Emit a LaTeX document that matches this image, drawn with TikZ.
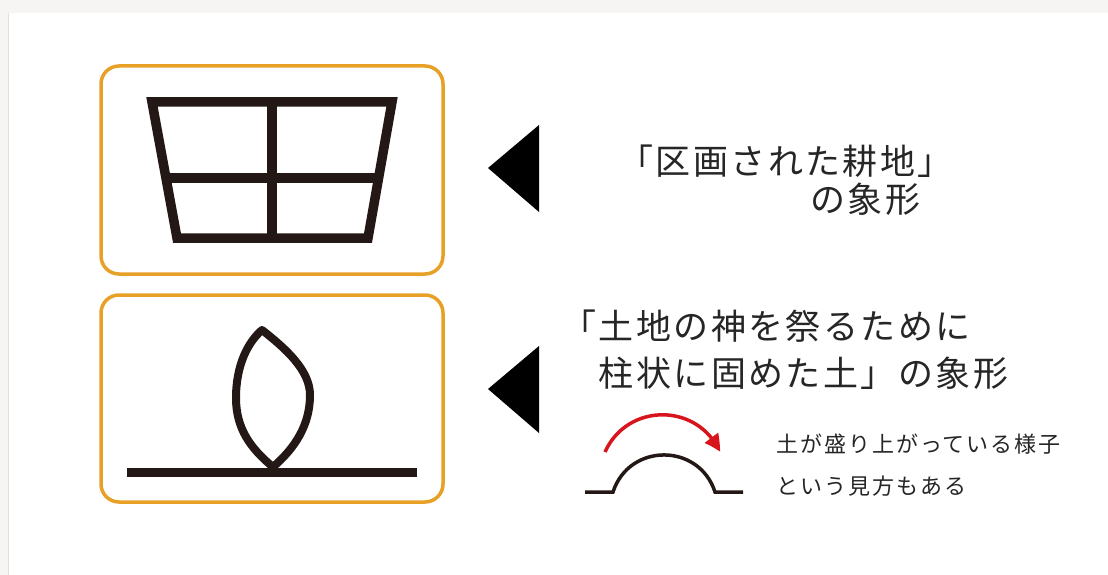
\documentclass[tikz,border=0pt]{standalone}
\usepackage{fontspec}
\newfontfamily\jp{Noto Sans CJK JP}
\newfontfamily\jpbig[LetterSpace=7.0]{Noto Sans CJK JP}
\newfontfamily\jpsmall[LetterSpace=9.0]{Noto Sans CJK JP}
\usetikzlibrary{arrows.meta,bending}
\definecolor{inkk}{HTML}{231815}
\definecolor{boxor}{HTML}{E8A127}
\definecolor{redar}{HTML}{D8141C}
\definecolor{txt}{HTML}{262626}
\definecolor{shad}{HTML}{F6F5F3}
\tikzset{
  framebox/.style={draw=boxor, line width=3.5pt, rounded corners=18pt},
  glyphline/.style={draw=inkk, line width=9.5pt, line join=miter},
  pointer/.style={fill=black, draw=none},
  bigtext/.style={font=\jpbig\fontsize{35}{44}\selectfont, text=txt, inner sep=0pt, anchor=base west},
  smalltext/.style={font=\jpsmall\fontsize{22}{28}\selectfont, text=txt, inner sep=0pt, anchor=base west},
  moundline/.style={draw=inkk, line width=3.5pt},
  redarrow/.style={draw=redar, line width=3.5pt, -{Triangle[length=17pt,width=16pt,bend]}}
}
\begin{document}
\begin{tikzpicture}[x=1pt,y=-1pt]
\useasboundingbox (0,0) rectangle (1108,575);
\fill[shad] (0,0) rectangle (1108,575);
\fill[white] (8,13) rectangle (1108,575);
\draw[color=black!12, line width=1.5pt] (8.5,13) -- (8.5,575);
% frames
\path[framebox] (101,66) rectangle (443,274);
\path[framebox] (101,295) rectangle (443,502);
% field glyph
\draw[glyphline] (152,102) -- (392,102) -- (368,238) -- (177,238) -- cycle;
\draw[glyphline] (272,102) -- (272,238);
\draw[glyphline] (165.5,178) -- (378.5,178);
% earth glyph
\draw[draw=inkk, line width=9pt, line cap=butt] (127,472) -- (417,472);
\draw[draw=inkk, line width=8pt, line join=round]
  (262,330) .. controls (285,348) and (310,370) .. (310,395)
  .. controls (310,425) and (295,448) .. (273,467)
  .. controls (250,448) and (236,428) .. (236,398)
  .. controls (236,365) and (248,342) .. cycle;
% pointers
\fill[pointer] (488,168) -- (539,125) -- (539,212) -- cycle;
\fill[pointer] (488,389) -- (539,346) -- (539,433) -- cycle;
% texts
\node[bigtext] (t1a) at (618,174) {「区画された耕地」};
\node[bigtext] (t1b) at (810,212) {の象形};
\node[bigtext] (t2a) at (561,339) {「土地の神を祭るために};
\node[bigtext] (t2b) at (561,386) {　柱状に固めた土」の象形};
\node[smalltext] (s1) at (776,452) {土が盛り上がっている様子};
\node[smalltext] (s2) at (776,494) {という見方もある};
% mound
\coordinate (ml) at (585,492);
\coordinate (ma) at (613,492);
\coordinate (mb) at (715,492);
\coordinate (mr) at (743,492);
\draw[moundline] (ml) -- (ma) .. controls (629.1,442.6) and (698.9,442.6) .. (mb) -- (mr);
\coordinate (ra) at (605,452);
\coordinate (rb) at (720,452);
\draw[redarrow] (ra) .. controls (627.3,402.4) and (697.7,402.4) .. (rb);
\end{tikzpicture}
\end{document}
